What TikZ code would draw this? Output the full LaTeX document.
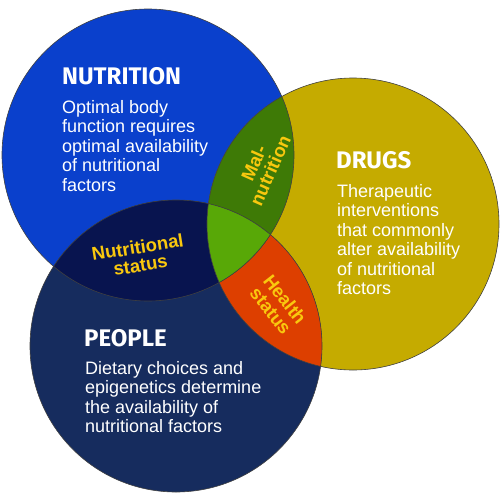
\documentclass[tikz,border=0pt]{standalone}
\usepackage{fontspec}
\setmainfont{Liberation Sans}
\newfontfamily\titlefont{Fira Sans}[BoldFont={* Bold}]
\usetikzlibrary{positioning}

\definecolor{nutritionBlue}{HTML}{0A40CC}
\definecolor{drugsGold}{HTML}{C5AB00}
\definecolor{peopleNavy}{HTML}{162C5E}
\definecolor{statusNavy}{HTML}{08144F}
\definecolor{malGreen}{HTML}{3E7A06}
\definecolor{coreGreen}{HTML}{58A807}
\definecolor{healthRed}{HTML}{DD3F00}
\definecolor{labelYellow}{HTML}{F9C80E}

\begin{document}
\begin{tikzpicture}[%
    x=1pt,
    y=-1pt,
    title/.style={%
        text=white,
        font=\titlefont\bfseries\fontsize{24}{24}\selectfont,
        anchor=base west,
        inner sep=0pt
    },
    body/.style={%
        text=white,
        font=\fontsize{18}{19.5}\selectfont,
        align=left,
        anchor=base west,
        inner sep=0pt
    },
    overlap/.style={%
        text=labelYellow,
        font=\bfseries\fontsize{18.5}{18}\selectfont,
        align=center,
        inner sep=0pt
    },
    rim/.style={%
        draw=black!75,
        line width=0.6pt
    }
]
\useasboundingbox (0,0) rectangle (501,501);
\def\venn{146pt}

% Circle centres
    \coordinate (nutrition) at (148,155);
    \coordinate (drugs) at (353,224);
    \coordinate (people) at (176,346);

% Circles
\fill[nutritionBlue] (nutrition) circle[radius=\venn];
\fill[drugsGold] (drugs) circle[radius=\venn];
\fill[peopleNavy] (people) circle[radius=\venn];

% Overlaps
\begin{scope}
    \clip (drugs) circle[radius=\venn];
    \fill[healthRed] (people) circle[radius=\venn];
\end{scope}
\begin{scope}
    \clip (nutrition) circle[radius=\venn];
    \fill[malGreen] (drugs) circle[radius=\venn];
    \fill[statusNavy] (people) circle[radius=\venn];
    \clip (drugs) circle[radius=\venn];
    \fill[coreGreen] (people) circle[radius=\venn];
\end{scope}

% Outlines
\draw[rim] (nutrition) circle[radius=\venn];
\draw[rim] (drugs) circle[radius=\venn];
\draw[rim] (people) circle[radius=\venn];

% Nutrition (base = last line)
    \node[title] (nutritionTitle) at (62,84) {NUTRITION};
    \node[body] (nutritionText) at (62,191) {Optimal body\\function requires\\optimal availability\\of nutritional\\factors};

% Drugs
    \node[title] (drugsTitle) at (336,168) {DRUGS};
    \node[body] (drugsText) at (337,294.5) {Therapeutic\\interventions\\that commonly\\alter availability\\of nutritional\\factors};

% People
    \node[title] (peopleTitle) at (84,346) {PEOPLE};
    \node[body] (peopleText) at (85,432.5) {Dietary choices and\\epigenetics determine\\the availability of\\nutritional factors};

% Overlap labels
    \node[overlap, rotate=9] (nutritionalStatus) at (139,256) {Nutritional\\status};
    \node[overlap, rotate=66] (malnutrition) at (262,167) {Mal-\\nutrition};
    \node[overlap, rotate=-52] (healthStatus) at (278,305) {Health\\status};

\end{tikzpicture}
\end{document}
